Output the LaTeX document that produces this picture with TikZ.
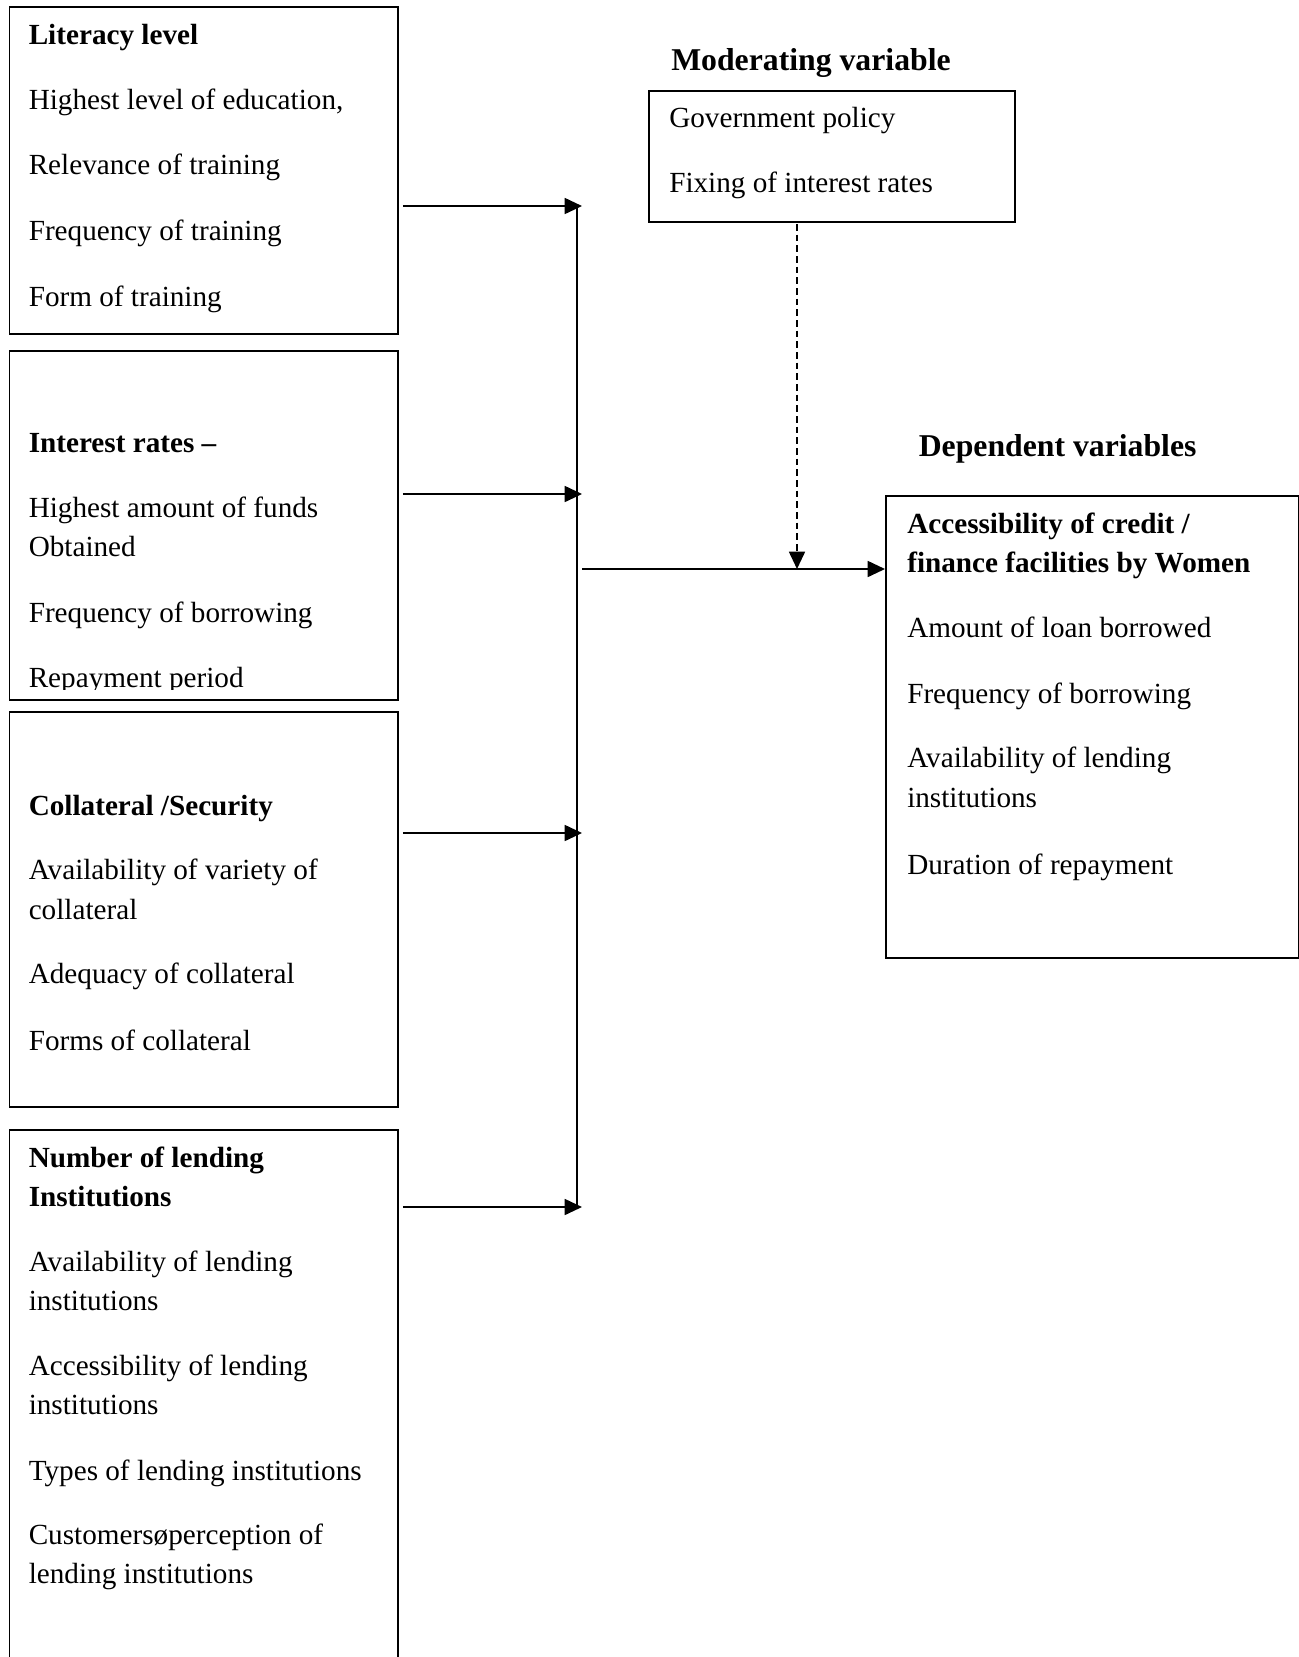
\documentclass[tikz,border=0pt]{standalone}
\usepackage{fontspec}
\setmainfont{Liberation Serif}
\usetikzlibrary{arrows.meta}
\begin{document}
\begin{tikzpicture}[x=0.75pt,y=-0.75pt,
  box/.style={draw,line width=1.4pt,inner sep=0,anchor=north west},
  txt/.style={anchor=base west,inner sep=0,yshift=-1.9pt,font=\fontsize{21.9}{29.25}\selectfont},
  hd/.style={anchor=base west,inner sep=0,yshift=-1.9pt,font=\fontsize{21.9}{29.25}\selectfont\bfseries},
  ttl/.style={anchor=base west,inner sep=0,yshift=-1.9pt,font=\fontsize{23.8}{29.25}\selectfont\bfseries},
  arr/.style={line width=1.3pt,-{Triangle[length=13pt,width=12pt]}},
  dasharr/.style={line width=1.3pt,dash pattern=on 5pt off 3pt,-{Triangle[length=13pt,width=12pt]}}]
\useasboundingbox (0,0) rectangle (1299,1657);

% boxes
\node[box,minimum width=291.4pt,minimum height=245pt] (b1) at (8.5,6.3) {};
\node[box,minimum width=291.4pt,minimum height=261.75pt] (b2) at (8.5,350) {};
\node[box,minimum width=291.4pt,minimum height=296.25pt] (b3) at (8.5,711) {};
\node[box,minimum width=291.4pt,minimum height=428.25pt] (b4) at (8.5,1129) {};
\node[box,minimum width=274.5pt,minimum height=98.25pt] (mod) at (648,90) {};
\node[box,line width=1.8pt,minimum width=309.75pt,minimum height=346.5pt] (dep) at (885,495) {};

% box 1
\node[hd]  (t11) at (28.5,42.4)  {Literacy level};
\node[txt] (t12) at (28.5,106.9) {Highest level of education,};
\node[txt] (t13) at (28.5,172.4) {Relevance of training};
\node[txt] (t14) at (28.5,237.9) {Frequency of training};
\node[txt] (t15) at (28.5,303.5) {Form of training};

% box 2
\node[hd]  (t21) at (28.5,450.4) {Interest rates --};
\node[txt] (t22) at (28.5,514.9) {Highest amount of funds};
\node[txt] (t23) at (28.5,554.0) {Obtained};
\node[txt] (t24) at (28.5,619.5) {Frequency of borrowing};
\begin{scope}
  \clip (0,600) rectangle (397,689);
  \node[txt] (t25) at (28.5,685.0) {Repayment period};
\end{scope}

% box 3
\node[hd]  (t31) at (28.5,812.9)  {Collateral /Security};
\node[txt] (t32) at (28.5,877.4)  {Availability of variety of};
\node[txt] (t33) at (28.5,916.5)  {collateral};
\node[txt] (t34) at (28.5,981.0)  {Adequacy of collateral};
\node[txt] (t35) at (28.5,1047.6) {Forms of collateral};

% box 4
\node[hd]  (t41) at (28.5,1164.9) {Number of lending};
\node[hd]  (t42) at (28.5,1204.0) {Institutions};
\node[txt] (t43) at (28.5,1268.5) {Availability of lending};
\node[txt] (t44) at (28.5,1307.6) {institutions};
\node[txt] (t45) at (28.5,1373.1) {Accessibility of lending};
\node[txt] (t46) at (28.5,1412.3) {institutions};
\node[txt] (t47) at (28.5,1477.8) {Types of lending institutions};
\node[txt] (t48) at (28.5,1542.3) {Customersøperception of};
\node[txt] (t49) at (28.5,1581.4) {lending institutions};

% moderating
\node[ttl] (mt)  at (671,67.7)  {Moderating variable};
\node[txt] (m1)  at (669,124.8) {Government policy};
\node[txt] (m2)  at (669,190.4) {Fixing of interest rates};

% dependent
\node[ttl] (dt)  at (918.5,453.6) {Dependent variables};
\node[hd]  (d1)  at (907,530.7) {Accessibility of credit /};
\node[hd]  (d2)  at (907,569.8) {finance facilities by Women};
\node[txt] (d3)  at (907,635.4) {Amount of loan borrowed};
\node[txt] (d4)  at (907,700.9) {Frequency of borrowing};
\node[txt] (d5)  at (907,765.4) {Availability of lending};
\node[txt] (d6)  at (907,804.5) {institutions};
\node[txt] (d7)  at (907,872.1) {Duration of repayment};

% connectors
\coordinate (j1) at (582,206);
\coordinate (j2) at (582,494);
\coordinate (j3) at (582,833);
\coordinate (j4) at (582,1207);
\coordinate (bt) at (577,206);
\coordinate (bb) at (577,1208);
\coordinate (o1) at (582,569);
\coordinate (ms) at (797,224);
\coordinate (me) at (797,569);

\draw[arr] ([xshift=3pt]b1.east |- j1) -- (j1);
\draw[arr] ([xshift=3pt]b2.east |- j2) -- (j2);
\draw[arr] ([xshift=3pt]b3.east |- j3) -- (j3);
\draw[arr] ([xshift=3pt]b4.east |- j4) -- (j4);
\draw[line width=1.3pt] (bt) -- (bb);
\draw[arr] (o1) -- (dep.west |- o1);
\draw[dasharr] (ms) -- (me);
\end{tikzpicture}
\end{document}
